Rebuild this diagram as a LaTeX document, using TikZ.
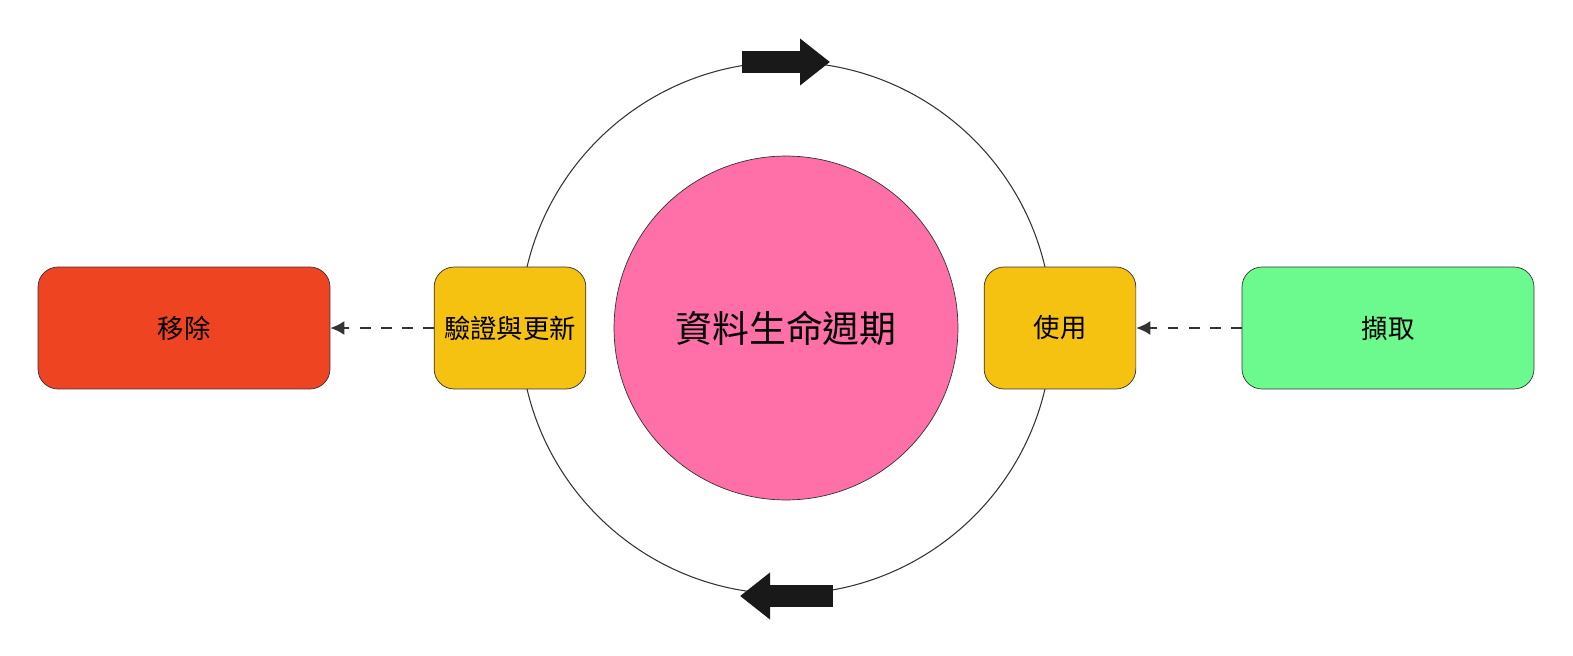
\documentclass[tikz,border=0pt]{standalone}
\usepackage{fontspec}
\setmainfont{Noto Sans CJK TC}
\usetikzlibrary{arrows.meta,positioning}
\definecolor{stagered}{HTML}{EE4422}
\definecolor{stageyellow}{HTML}{F5C211}
\definecolor{stagegreen}{HTML}{6CFA8F}
\definecolor{cyclepink}{HTML}{FF6FA8}
\begin{document}
\begin{tikzpicture}[
    x=0.02cm, y=-0.02cm,
    font=\fontsize{15}{18}\selectfont,
    stage/.style={
		rectangle,
		rounded corners=4mm,
		draw=black!80,
		text centered,
		minimum height=2.44cm,
		fill=white
	},
	bigstage/.style={stage, minimum width=5.84cm},
	smallstage/.style={stage, minimum width=2.9cm, text width=2.8cm, fill=stageyellow},
	flow/.style={draw=black!80, line width=1.2pt, dashed, dash pattern=on 6pt off 6pt, -{Latex[length=8pt,width=8pt]}},
	turn/.style={draw=black!90, line width=12pt, -{Triangle[length=0.6cm,width=0.9cm]}}
  ]
  \useasboundingbox (0,0) rectangle (1573,656);
  % ring and centre
  \draw [black!80, line width=0.6pt] (786,328) circle (266);
  \node [circle, draw=black!80, fill=cyclepink, minimum size=6.88cm,
         font=\fontsize{21}{24}\selectfont] (cycle) at (786,328) {資料生命週期};

  % the stages
  \node [smallstage] (verify) at (510,328) {驗證與更新};
  \node [smallstage] (use) at (1060,328) {使用};
  \node [bigstage, fill=stagered] (remove) at (184,328) {移除};
  \node [bigstage, fill=stagegreen] (ingest) at (1388,328) {擷取};

  \draw [flow] (verify) -- (remove);
  \draw [flow] (ingest) -- (use);

  % direction of the ring
  \coordinate (topa) at (742,62);
  \coordinate (topb) at (830,62);
  \coordinate (bota) at (833,596);
  \coordinate (botb) at (740,596);
  \draw [turn] (topa) -- (topb);
  \draw [turn] (bota) -- (botb);
\end{tikzpicture}
\end{document}
